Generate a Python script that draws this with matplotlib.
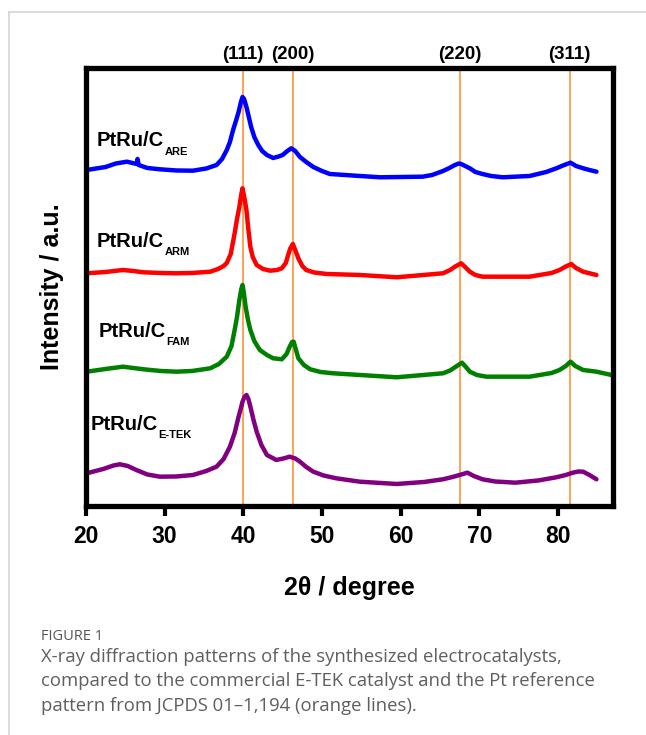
import matplotlib
matplotlib.use('Agg')
import matplotlib.pyplot as plt
from matplotlib.lines import Line2D

plt.rcParams['font.family'] = ['Liberation Sans', 'DejaVu Sans']

# XRD patterns (2theta in degree, intensity in a.u. incl. vertical offset)
tt_are = [20.1, 22.5, 23.8, 25.2, 26.45, 26.55, 26.7, 27.8, 29.4, 31.5, 33.6, 35.3, 36.6, 37.3,
          37.9, 38.3, 38.7, 39.1, 39.4, 39.7, 39.9, 40.1, 40.4, 40.7, 41.0, 41.4, 41.9, 42.4,
          43.0, 43.8, 44.5, 45.0, 45.6, 46.1, 46.6, 47.2, 48.0, 48.9, 50.0, 51.0, 54.8, 57.4,
          62.8, 64.0, 65.4, 66.2, 66.9, 67.4, 67.7, 68.2, 68.8, 69.5, 70.4, 71.5, 73.0, 76.4,
          78.5, 79.8, 80.8, 81.6, 82.3, 83.2, 84.0, 84.9]
i_are = [336, 339, 342.5, 344.3, 342, 347, 341, 338, 336.7, 335.5, 335.3, 337.5, 341, 347,
         356, 364, 376, 386, 394, 404, 409, 407, 399, 389, 379, 369, 361, 355,
         351, 348, 349.5, 351, 355, 357.7, 355, 349, 344, 339, 335, 332, 330, 328.7,
         329.3, 331, 335, 338, 341, 342.5, 342, 340, 337.7, 334, 332, 330, 328.7, 330,
         334, 337.7, 341, 343.3, 340, 337.7, 336, 334.3]

tt_arm = [20.1, 22.5, 24.7, 26.0, 27.3, 29.5, 31.5, 33.5, 35.8, 36.8, 37.5, 37.9, 38.4, 38.9,
          39.2, 39.5, 39.75, 39.9, 40.1, 40.4, 40.65, 40.9, 41.2, 41.7, 42.5, 43.4, 44.3, 44.9,
          45.4, 45.7, 46.0, 46.3, 46.6, 47.0, 47.5, 48.0, 49.0, 50.6, 54.8, 59.5, 65.4, 66.3,
          66.9, 67.7, 68.2, 68.8, 69.5, 70.4, 76.4, 79.2, 80.2, 81.0, 81.7, 82.3, 83.2, 84.9]
i_arm = [232.7, 234, 236, 235, 233.7, 233, 232.7, 233, 234.3, 237, 240, 243, 252, 272.7,
         287, 299, 312, 317.7, 310, 296, 276, 259, 249, 241, 237, 235.3, 236, 237.7,
         243, 251, 258, 262, 256, 247.7, 240, 236, 233.5, 232, 231, 228.7, 232.7, 236,
         239.3, 242.7, 239, 234.3, 231, 229.3, 229.3, 233, 236, 239.5, 242, 238, 234.3, 231]

tt_fam = [20.1, 22.5, 24.7, 26.0, 27.3, 29.5, 31.5, 33.5, 35.8, 36.9, 37.9, 38.5, 38.9, 39.2,
          39.5, 39.75, 39.9, 40.05, 40.3, 40.6, 40.9, 41.4, 42.1, 43.0, 43.8, 44.9, 45.5, 45.9,
          46.2, 46.4, 46.7, 47.0, 47.7, 48.5, 49.8, 51.4, 54.8, 59.5, 65.4, 66.3, 66.9, 67.8,
          68.3, 68.8, 69.7, 70.9, 76.4, 79.2, 80.2, 81.0, 81.6, 82.2, 83.2, 84.9, 86.8]
i_fam = [134.3, 137, 139.3, 138, 136.7, 135, 134.3, 135, 137.7, 142, 149.3, 160, 176, 189,
         206, 217, 221, 214, 199, 186, 176, 165, 156, 151, 147.7, 146.7, 152, 159.3,
         164, 164.3, 156, 147.7, 141, 136.7, 134, 132.7, 131, 128.7, 132.7, 135.5, 138.7, 143.3,
         139, 134.3, 131, 129.3, 129.3, 133, 136, 140, 144.3, 140, 136, 134.3, 131]

tt_etek = [20.1, 22.2, 23.5, 24.3, 25.3, 26.4, 27.8, 29.4, 31.5, 33.6, 35.3, 36.6, 37.5, 38.3,
           38.9, 39.4, 39.7, 39.9, 40.15, 40.4, 40.65, 40.9, 41.3, 41.7, 42.3, 43.0, 44.2, 45.1,
           45.9, 46.6, 47.2, 48.0, 48.9, 50.2, 51.8, 54.8, 59.5, 63.0, 65.4, 66.6, 67.5, 68.5,
           69.3, 70.4, 72.0, 74.6, 77.5, 79.8, 81.0, 81.9, 82.6, 83.2, 84.0, 84.9]
i_etek = [32.7, 37, 40.5, 41.7, 40, 36, 31.5, 29.3, 29.5, 31, 35, 39.3, 47, 59.3,
          73, 89.3, 98, 104.3, 109, 111, 107, 99.3, 86, 74.3, 61, 51, 46, 47.5,
          49.3, 47.5, 44.3, 39, 34.3, 30.5, 27.7, 24.3, 22, 24, 26.7, 29, 31, 33.3,
          30, 26.7, 24.5, 23.3, 25.5, 28.7, 31, 33.3, 34.5, 34.3, 31, 26.7]

# Pt reference (JCPDS 01-1194)
ref_pos = [39.9, 46.3, 67.5, 81.5]
ref_hkl = ['(111)', '(200)', '(220)', '(311)']

names = ['ARE', 'ARM', 'FAM', 'E-TEK']
colors = ['#0000FF', '#FF0000', '#008000', '#800080']

fig = plt.figure(figsize=(6.46, 7.35), dpi=100)
ax = fig.add_axes([0.1331, 0.3116, 0.8158, 0.5959])

for x in ref_pos:
    ax.axvline(x, color='#FF8A2A', linewidth=1.1, zorder=1)

series = [(tt_are, i_are), (tt_arm, i_arm), (tt_fam, i_fam), (tt_etek, i_etek)]
for (x, y), c in zip(series, colors):
    ax.plot(x, y, color=c, linewidth=3.2, solid_joinstyle='round', solid_capstyle='round', zorder=2)

# sample labels: main text + subscript
lab_main = [(21.36, 365.3), (21.36, 264.3), (21.56, 174.3), (20.6, 81)]
lab_sub = [(30.04, 354.3), (30.04, 254.3), (30.25, 163.7), (29.19, 71)]
for n, (mx, my), (sx, sy) in zip(names, lab_main, lab_sub):
    ax.text(mx, my, 'PtRu/C', fontsize=14.5, fontweight='bold', ha='left', va='center')
    ax.text(sx, sy, n, fontsize=8, fontweight='bold', ha='left', va='center')

for x, h in zip(ref_pos, ref_hkl):
    ax.text(x, 451, h, fontsize=13.5, fontweight='bold', ha='center', va='center', clip_on=False)

ax.set_xlim(20, 87)
ax.set_ylim(0, 438)
ax.set_xticks([20, 30, 40, 50, 60, 70, 80])
ax.set_yticks([])
ax.tick_params(axis='x', direction='out', length=7.5, width=3, pad=6, labelsize=16.5)
for lbl in ax.get_xticklabels():
    lbl.set_fontweight('bold')
for sp in ax.spines.values():
    sp.set_linewidth(3.8)

ax.set_xlabel('2θ / degree', fontsize=18, fontweight='bold')
ax.set_ylabel('Intensity / a.u.', fontsize=18, fontweight='bold')
ax.xaxis.set_label_coords(0.5, -0.16)
ax.yaxis.set_label_coords(-0.042, 0.5)

# card border and caption
fig.add_artist(Line2D([9.3 / 646, 1], [1 - 11.7 / 735, 1 - 11.7 / 735], color='#d4d4d4', linewidth=1.2))
fig.add_artist(Line2D([9.3 / 646, 9.3 / 646], [0, 1 - 11.7 / 735], color='#d4d4d4', linewidth=1.2))

fig.text(41 / 646, 1 - 636 / 735, 'FIGURE 1', fontsize=10.5, color='#555555', family='Open Sans',
         ha='left', va='center')
caption = ['X-ray diffraction patterns of the synthesized electrocatalysts,',
           'compared to the commercial E-TEK catalyst and the Pt reference',
           'pattern from JCPDS 01\u20131,194 (orange lines).']
for k, line in enumerate(caption):
    fig.text(41 / 646, 1 - (657 + 24.3 * k) / 735, line, fontsize=13.3, color='#5f5f5f',
             family='Open Sans', ha='left', va='center')

fig.savefig('out.png', dpi=100)
